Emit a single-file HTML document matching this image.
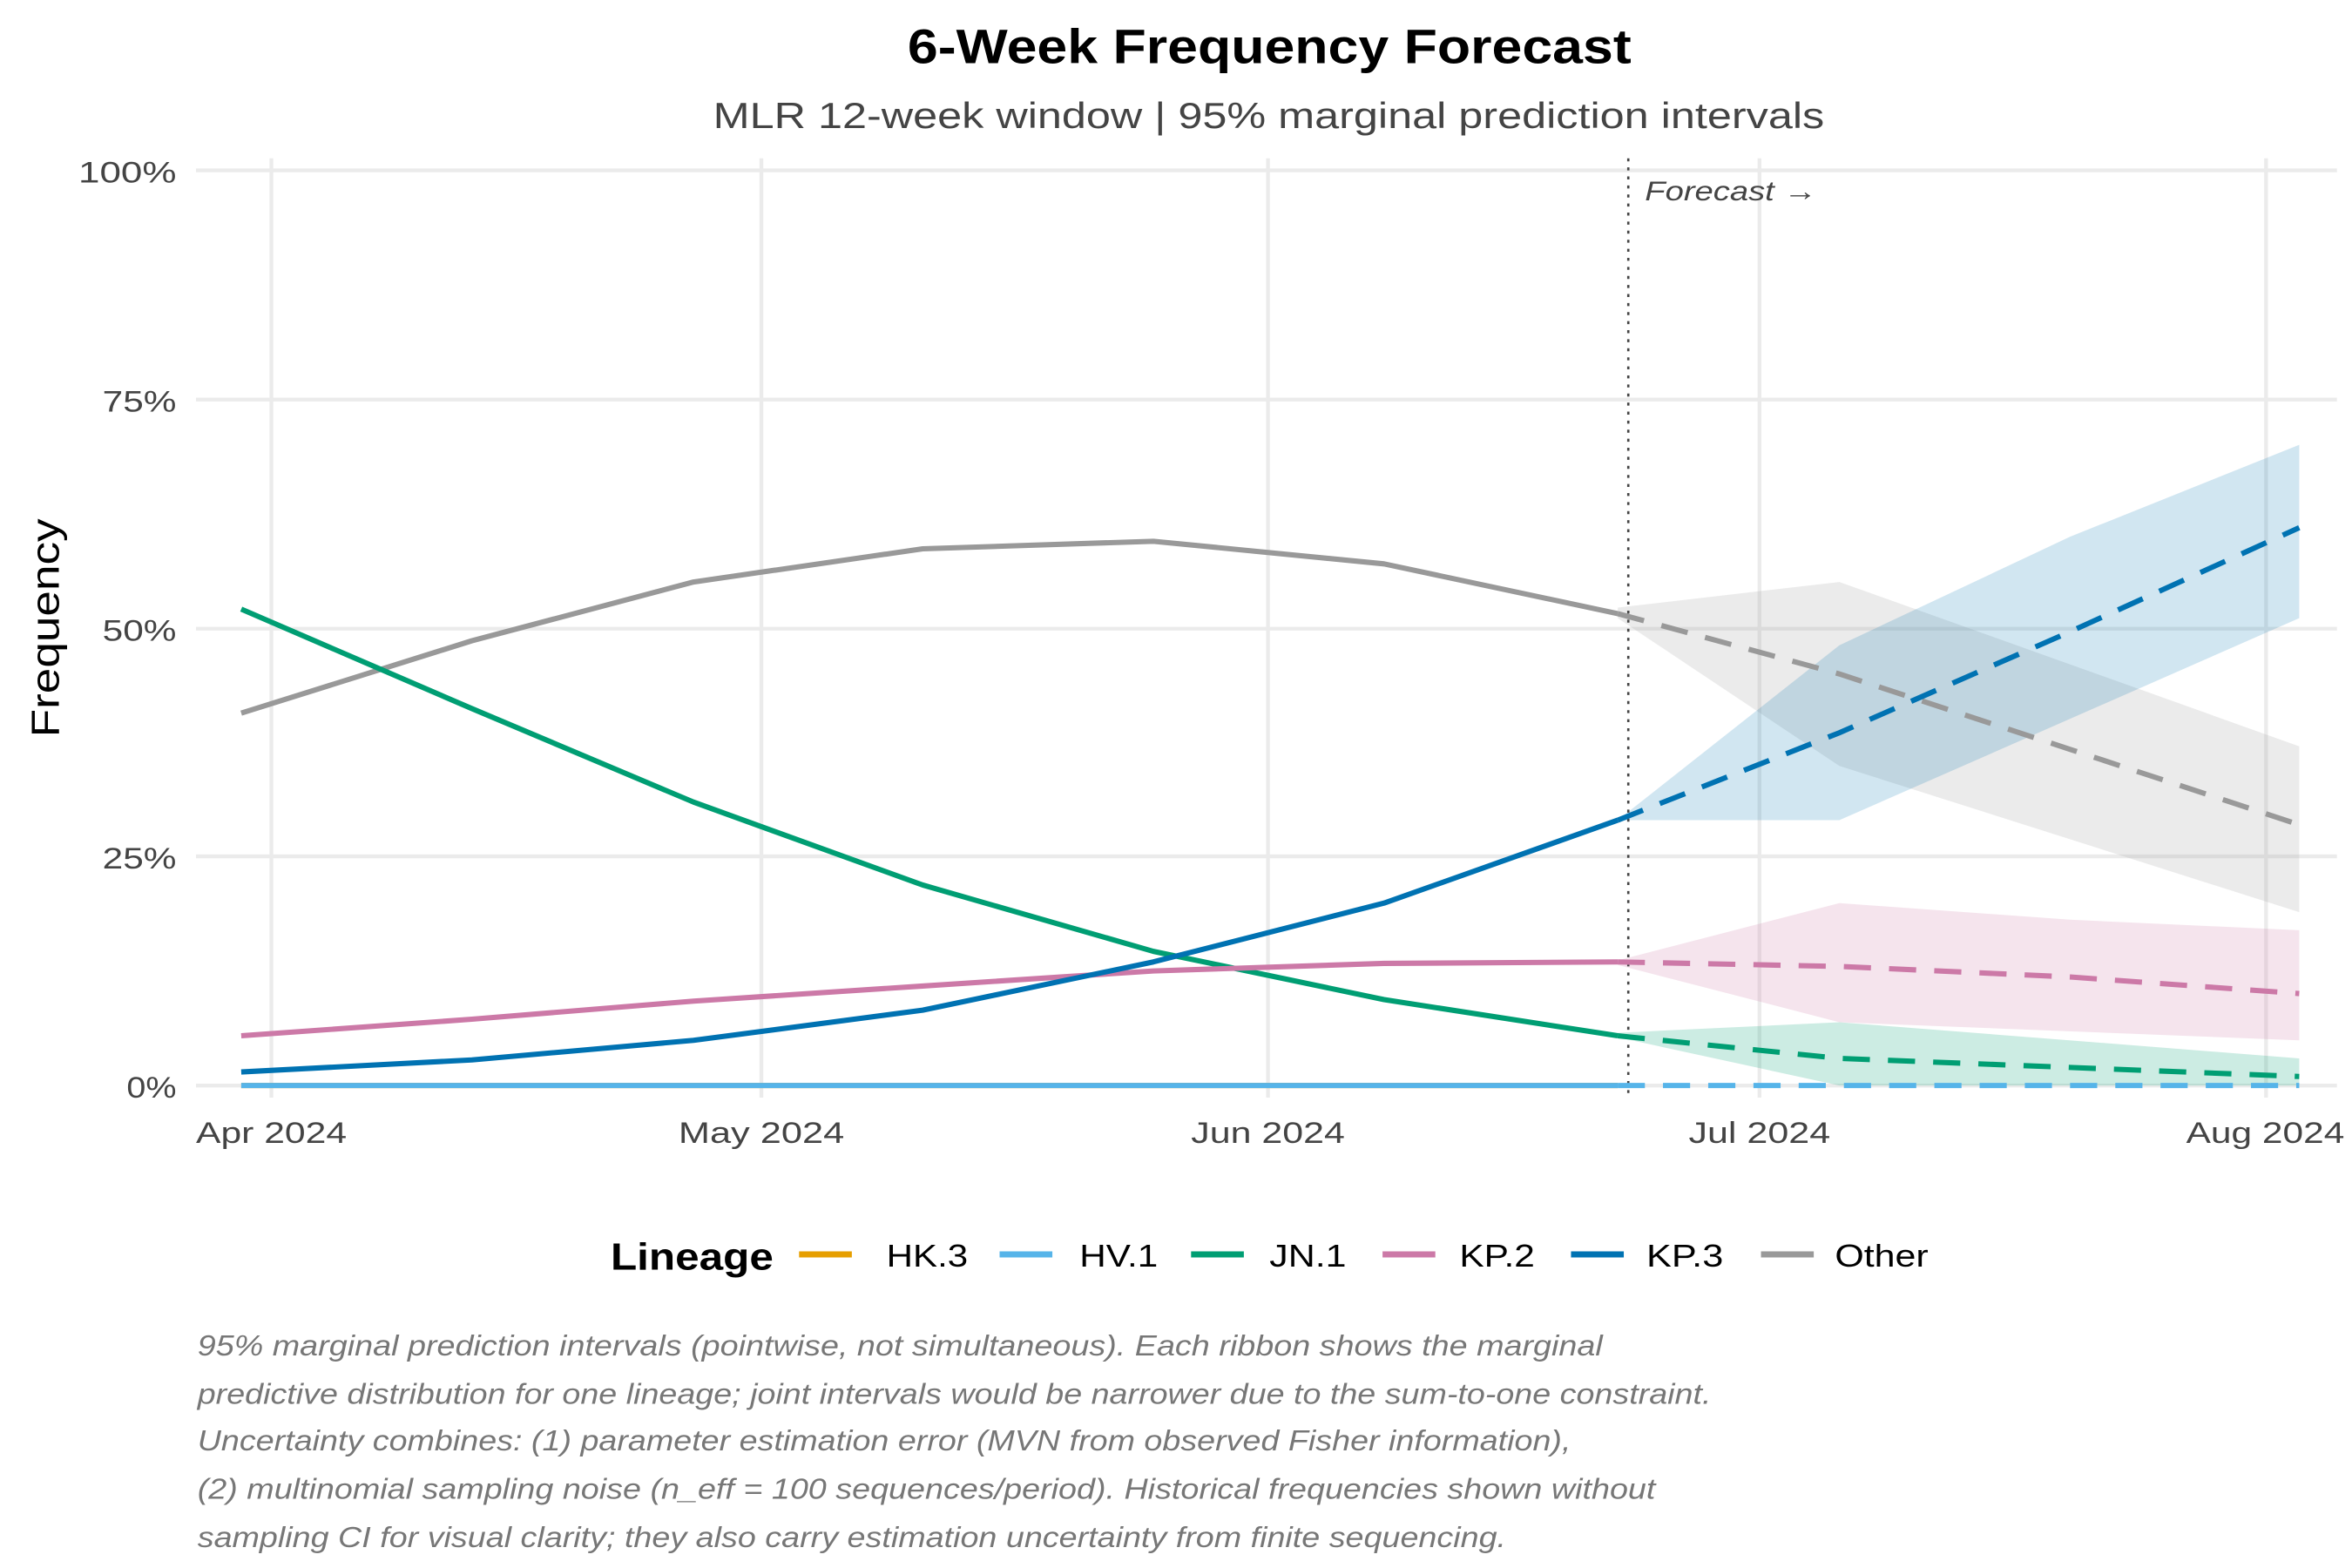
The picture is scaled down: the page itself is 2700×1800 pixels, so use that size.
<!DOCTYPE html>
<html><head><meta charset="utf-8"><style>
html,body{margin:0;padding:0;background:#fff;}
svg{display:block;font-family:"Liberation Sans",sans-serif;}
</style></head><body>
<svg width="2700" height="1800" viewBox="0 0 1560 1040" xmlns="http://www.w3.org/2000/svg">
<rect width="1560" height="1040" fill="#fff"/>
<text x="602" y="42" font-size="32" font-weight="bold" fill="#000" textLength="480" lengthAdjust="spacingAndGlyphs">6-Week Frequency Forecast</text>
<text x="473" y="85" font-size="24" fill="#444" textLength="737" lengthAdjust="spacingAndGlyphs">MLR 12-week window | 95% marginal prediction intervals</text>
<g stroke="#ebebeb" stroke-width="2.5" fill="none">
<line x1="130" y1="113" x2="1550" y2="113"/><line x1="130" y1="265" x2="1550" y2="265"/>
<line x1="130" y1="417" x2="1550" y2="417"/><line x1="130" y1="568" x2="1550" y2="568"/>
<line x1="130" y1="720" x2="1550" y2="720"/>
<line x1="180" y1="105" x2="180" y2="728"/><line x1="505" y1="105" x2="505" y2="728"/>
<line x1="841" y1="105" x2="841" y2="728"/><line x1="1167" y1="105" x2="1167" y2="728"/>
<line x1="1503" y1="105" x2="1503" y2="728"/>
</g>
<g font-size="20" fill="#444" lengthAdjust="spacingAndGlyphs">
<text x="52" y="121" textLength="65" lengthAdjust="spacingAndGlyphs">100%</text>
<text x="68" y="273" textLength="49" lengthAdjust="spacingAndGlyphs">75%</text>
<text x="68" y="425" textLength="49" lengthAdjust="spacingAndGlyphs">50%</text>
<text x="68" y="576" textLength="49" lengthAdjust="spacingAndGlyphs">25%</text>
<text x="84" y="728" textLength="33" lengthAdjust="spacingAndGlyphs">0%</text>
</g>
<g font-size="20" fill="#444">
<text x="130" y="758" textLength="100" lengthAdjust="spacingAndGlyphs">Apr 2024</text>
<text x="450" y="758" textLength="110" lengthAdjust="spacingAndGlyphs">May 2024</text>
<text x="790" y="758" textLength="102" lengthAdjust="spacingAndGlyphs">Jun 2024</text>
<text x="1120" y="758" textLength="94" lengthAdjust="spacingAndGlyphs">Jul 2024</text>
<text x="1450" y="758" textLength="105" lengthAdjust="spacingAndGlyphs">Aug 2024</text>
</g>
<text transform="translate(39,417) rotate(-90)" x="-72" font-size="26" fill="#000" textLength="145" lengthAdjust="spacingAndGlyphs">Frequency</text>
<!-- ribbons -->
<polygon points="1073,403 1220,386 1525,495 1525,605 1220,508 1073,410" fill="#999" fill-opacity="0.2"/>
<polygon points="1073,544 1220,428 1373,356 1525,295 1525,410 1220,544 1073,544" fill="#0072b2" fill-opacity="0.18"/>
<polygon points="1073,637 1220,599 1373,610 1525,617 1525,690 1220,678 1073,640" fill="#cc79a7" fill-opacity="0.2"/>
<polygon points="1073,685 1220,678 1525,702 1525,720 1220,720 1073,688" fill="#009e73" fill-opacity="0.2"/>
<line x1="1080" y1="105" x2="1080" y2="728" stroke="#444" stroke-width="1.5" stroke-dasharray="2,4"/>
<text x="1091" y="133" font-size="18" font-style="italic" fill="#444" textLength="114" lengthAdjust="spacingAndGlyphs">Forecast →</text>
<!-- historical -->
<g fill="none" stroke-width="3.5" stroke-linejoin="round">
<polyline points="160,473 313,425 460,386 612,364 765,359 918,374 1073,407" stroke="#999"/>
<polyline points="160,404 313,470 460,532 612,587 765,631 918,663 1073,687" stroke="#009e73"/>
<polyline points="160,687 313,676 460,664 612,654 765,644 918,639 1073,638" stroke="#cc79a7"/>
<polyline points="160,711 313,703 460,690 612,670 765,638 918,599 1073,544" stroke="#0072b2"/>
<polyline points="160,720 1073,720" stroke="#e69f00"/>
<polyline points="160,720 1073,720" stroke="#56b4e9"/>
</g>
<g fill="none" stroke-width="3.5" stroke-dasharray="18,12">
<polyline points="1073,407 1220,447 1373,497 1525,547" stroke="#999"/>
<polyline points="1073,544 1220,486 1373,419 1525,350" stroke="#0072b2"/>
<polyline points="1073,638 1220,641 1373,648 1525,659" stroke="#cc79a7"/>
<polyline points="1073,687 1220,702 1373,708 1525,714" stroke="#009e73"/>
<polyline points="1073,720 1525,720" stroke="#56b4e9"/>
</g>
<!-- legend -->
<text x="405" y="842" font-size="25" font-weight="bold" fill="#000" textLength="108" lengthAdjust="spacingAndGlyphs">Lineage</text>
<g stroke-width="4">
<line x1="530" y1="832" x2="565" y2="832" stroke="#e69f00"/>
<line x1="663" y1="832" x2="698" y2="832" stroke="#56b4e9"/>
<line x1="790" y1="832" x2="825" y2="832" stroke="#009e73"/>
<line x1="917" y1="832" x2="952" y2="832" stroke="#cc79a7"/>
<line x1="1042" y1="832" x2="1077" y2="832" stroke="#0072b2"/>
<line x1="1168" y1="832" x2="1203" y2="832" stroke="#999"/>
</g>
<g font-size="21" fill="#000">
<text x="588" y="840" textLength="54" lengthAdjust="spacingAndGlyphs">HK.3</text>
<text x="716" y="840" textLength="52" lengthAdjust="spacingAndGlyphs">HV.1</text>
<text x="842" y="840" textLength="51" lengthAdjust="spacingAndGlyphs">JN.1</text>
<text x="968" y="840" textLength="50" lengthAdjust="spacingAndGlyphs">KP.2</text>
<text x="1092" y="840" textLength="51" lengthAdjust="spacingAndGlyphs">KP.3</text>
<text x="1217" y="840" textLength="62" lengthAdjust="spacingAndGlyphs">Other</text>
</g>
<g font-size="19" font-style="italic" fill="#777">
<text x="131" y="899" textLength="932" lengthAdjust="spacingAndGlyphs">95% marginal prediction intervals (pointwise, not simultaneous). Each ribbon shows the marginal</text>
<text x="131" y="931" textLength="1004" lengthAdjust="spacingAndGlyphs">predictive distribution for one lineage; joint intervals would be narrower due to the sum-to-one constraint.</text>
<text x="131" y="962" textLength="911" lengthAdjust="spacingAndGlyphs">Uncertainty combines: (1) parameter estimation error (MVN from observed Fisher information),</text>
<text x="131" y="994" textLength="967" lengthAdjust="spacingAndGlyphs">(2) multinomial sampling noise (n_eff = 100 sequences/period). Historical frequencies shown without</text>
<text x="131" y="1026" textLength="868" lengthAdjust="spacingAndGlyphs">sampling CI for visual clarity; they also carry estimation uncertainty from finite sequencing.</text>
</g>
</svg>
</body></html>
